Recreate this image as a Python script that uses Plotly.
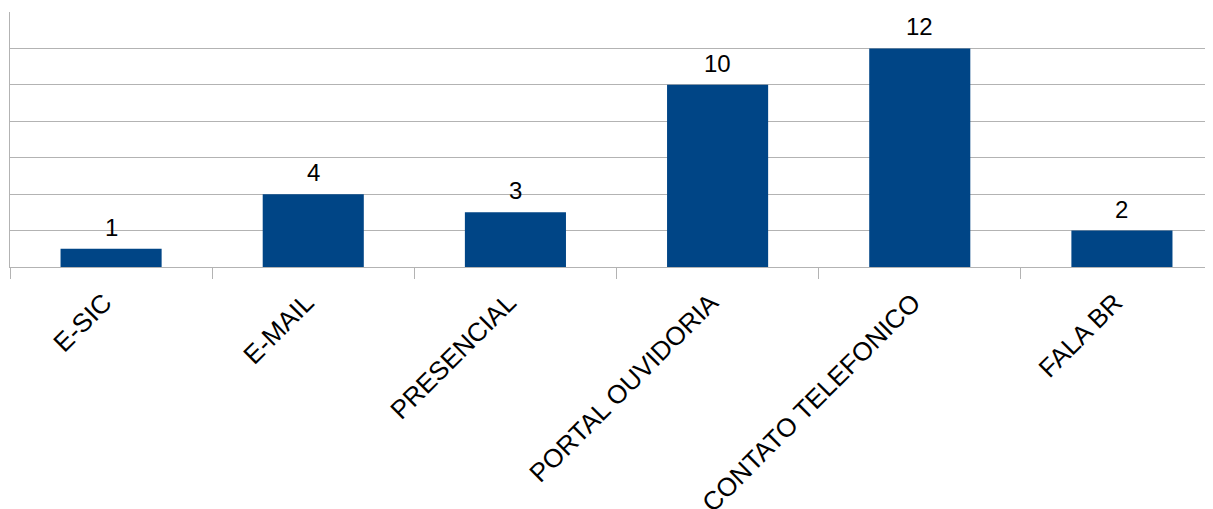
import plotly.graph_objects as go

categories = ["E-SIC", "E-MAIL", "PRESENCIAL", "PORTAL OUVIDORIA", "CONTATO TELEFONICO", "FALA BR"]
values = [1, 4, 3, 10, 12, 2]

FONT = "Liberation Sans, Arial, sans-serif"

fig = go.Figure(go.Bar(
    x=categories, y=values,
    marker=dict(color="#004586", line=dict(width=0)),
    width=0.5,
))

for c, v in zip(categories, values):
    fig.add_annotation(
        x=c, y=v, text=str(v), showarrow=False,
        xanchor="center", yanchor="bottom", yshift=6,
        font=dict(family=FONT, size=24, color="#000000"),
    )

fig.update_layout(
    width=1213, height=509,
    margin=dict(l=2, r=0, t=4, b=250),
    paper_bgcolor="white", plot_bgcolor="white",
    showlegend=False,
    font=dict(family=FONT, size=24, color="#000000"),
)
fig.update_xaxes(
    range=[-0.5, 5.49],
    tickson="boundaries", ticks="outside", ticklen=11, tickcolor="#b3b3b3", tickwidth=1,
    showline=True, linecolor="#b3b3b3", linewidth=1,
    tickangle=-45, tickfont=dict(size=26),
    ticklabelstandoff=9, ticklabelshift=-7,
    showgrid=False,
)
fig.update_yaxes(
    range=[0, 14], dtick=2,
    showgrid=True, gridcolor="#b3b3b3", gridwidth=1,
    showticklabels=False, ticks="",
    showline=True, linecolor="#b3b3b3", linewidth=1,
    zeroline=False,
)

fig.write_html("out.html")
